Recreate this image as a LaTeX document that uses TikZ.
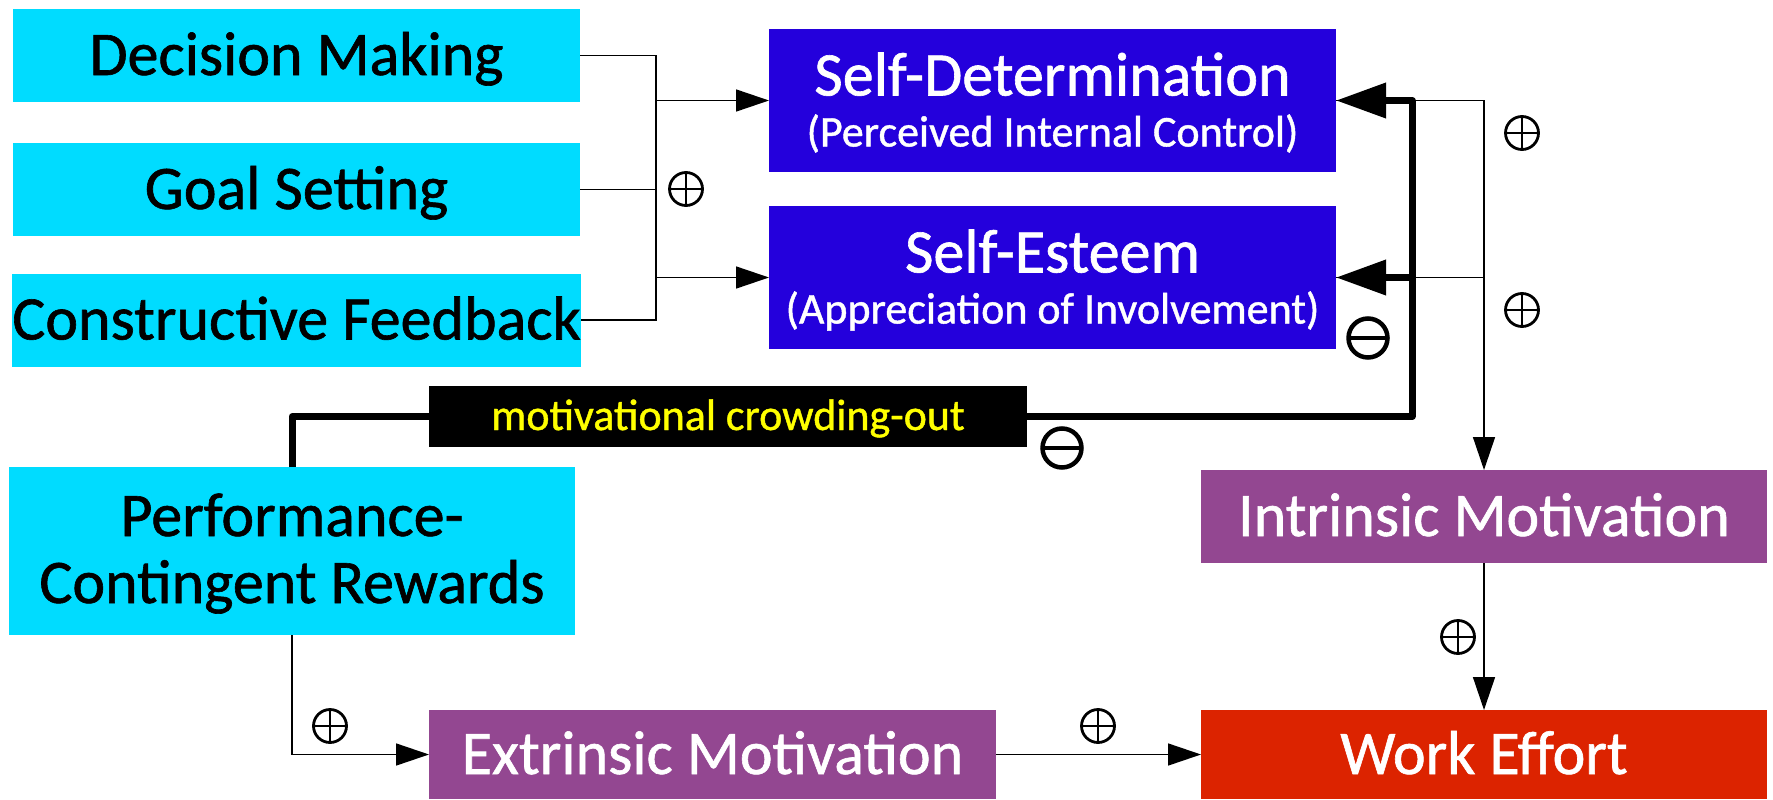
\documentclass[tikz,border=0pt]{standalone}
\usepackage{fontspec}
\setmainfont{Carlito}[BoldFont={Carlito}, BoldFeatures={FakeBold=1.0}]
\usetikzlibrary{arrows.meta,calc}
\definecolor{cyanC}{RGB}{0,220,255}
\definecolor{blueC}{RGB}{36,0,220}
\definecolor{purpleC}{RGB}{147,71,145}
\definecolor{redC}{RGB}{220,35,0}
\definecolor{yellowC}{RGB}{255,255,0}
\tikzset{
  box/.style={rectangle, inner sep=0pt, outer sep=0pt, font=\fontsize{62}{74}\selectfont\bfseries, text height=39pt, text depth=0pt},
  cbox/.style={box, fill=cyanC, text=black},
  bbox/.style={box, fill=blueC, text=white},
  pbox/.style={box, fill=purpleC, text=white},
  rbox/.style={box, fill=redC, text=white},
  titletext/.style={inner sep=0pt, anchor=base, font=\fontsize{62}{74}\selectfont\bfseries},
  subtext/.style={inner sep=0pt, anchor=base, font=\fontsize{44}{52}\selectfont\bfseries, text=white},
  conn/.style={line width=1.5pt, draw=black},
  tarrow/.style={conn, -{Triangle[length=33pt,width=22pt]}},
  fat/.style={line width=7pt, draw=black, line join=round},
  fatarrow/.style={fat, -{Triangle[length=50pt,width=34pt]}},
  plussign/.style={circle, draw=black, line width=2.8pt, minimum size=33pt, inner sep=0pt,
    path picture={\draw[line width=2pt] (path picture bounding box.north) -- (path picture bounding box.south);
                  \draw[line width=2pt] (path picture bounding box.west) -- (path picture bounding box.east);}},
  minussign/.style={circle, draw=black, line width=4.5pt, minimum size=39pt, inner sep=0pt,
    path picture={\draw[line width=4pt] (path picture bounding box.west) -- (path picture bounding box.east);}}
}
\begin{document}
\begin{tikzpicture}[x=1pt,y=-1pt]
\useasboundingbox (0,0) rectangle (1773,800);
\fill[white] (0,0) rectangle (1773,800);

% left input boxes
\node[cbox, minimum width=567pt, minimum height=93pt] (dm) at (296.5,55.5) {Decision Making};
\node[cbox, minimum width=567pt, minimum height=93pt] (gs) at (296.5,189.5) {Goal Setting};
\node[cbox, minimum width=567pt, minimum height=93pt] (cf) at (296.5,320) {Constructive Feedback};

% self boxes
\node[bbox, minimum width=567pt, minimum height=143pt] (sd) at (1052.5,100.5) {};
\node[titletext, text=white] (sdt) at ([yshift=5pt]sd.center) {Self-Determination};
\node[subtext] (sds) at ([yshift=-46pt]sd.center) {(Perceived Internal Control)};

\node[bbox, minimum width=567pt, minimum height=143pt] (se) at (1052.5,277.5) {};
\node[titletext, text=white] (set) at ([yshift=5pt]se.center) {Self-Esteem};
\node[subtext] (ses) at ([yshift=-46pt]se.center) {(Appreciation of Involvement)};

% rewards
\node[cbox, minimum width=566pt, minimum height=168pt] (pcr) at (292,551) {};
\node[titletext, text=black] (pcr1) at ([yshift=15pt]pcr.center) {Performance-};
\node[titletext, text=black] (pcr2) at ([yshift=-52pt]pcr.center) {Contingent Rewards};

% crowding-out label
\node[rectangle, fill=black, inner sep=0pt, minimum width=598pt, minimum height=61pt] (lab) at (728,416.5) {};
\node[inner sep=0pt, anchor=base, text=yellowC, font=\fontsize{44}{52}\selectfont\bfseries] (labt) at ([yshift=-13.5pt]lab.center) {motivational crowding-out};

% motivation and effort
\node[pbox, minimum width=566pt, minimum height=93pt] (im) at (1484,516.5) {Intrinsic Motivation};
\node[pbox, minimum width=567pt, minimum height=89pt] (em) at (712.5,754.5) {Extrinsic Motivation};
\node[rbox, minimum width=566pt, minimum height=89pt] (we) at (1484,754.5) {Work Effort};

% left junction
\coordinate (jt) at (656,55.5);
\coordinate (jb) at (656,320);
\draw[conn] (dm.east) -- (jt) -- (jb) -- (cf.east);
\draw[conn] (gs.east) -- (gs.east -| jt);
\draw[tarrow] (jt |- sd.west) -- (sd.west);
\draw[tarrow] (jt |- se.west) -- (se.west);

% right thin connectors to intrinsic motivation
\draw[tarrow] (sd.east) -| (im.north);
\draw[conn] (se.east) -- (im.north |- se.east);
\draw[tarrow] (im.south) -- (we.north);
\draw[tarrow] (em.east) -- (we.west);
\draw[tarrow] (pcr.south) |- (em.west);

% thick crowding-out path
\coordinate (jr) at (1412,416.5);
\draw[fat] (pcr.north) |- (lab.west);
\draw[fat] (lab.east) -- (jr) -- (jr |- sd.east) -- ([xshift=40pt]sd.east);
\draw[fatarrow] ([xshift=45pt]sd.east) -- (sd.east);
\draw[fatarrow] (jr |- se.east) -- (se.east);

% signs
\node[plussign] (p1) at (686,189) {};
\node[plussign] (p2) at (1522,133) {};
\node[plussign] (p3) at (1522,310) {};
\node[plussign] (p4) at (1458,637) {};
\node[plussign] (p5) at (1098,726) {};
\node[plussign] (p6) at (330,726) {};
\node[minussign] (m1) at (1368,338) {};
\node[minussign] (m2) at (1062,448) {};
\end{tikzpicture}
\end{document}
